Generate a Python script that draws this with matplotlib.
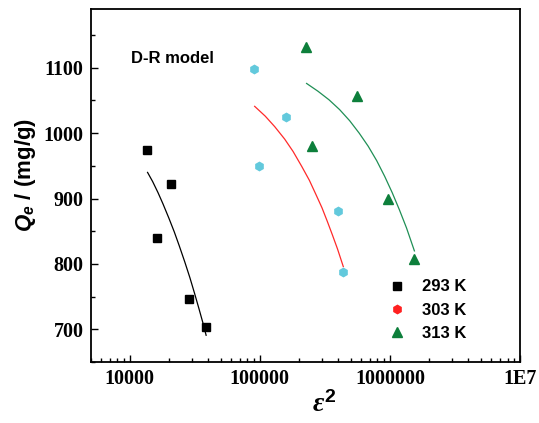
import matplotlib
matplotlib.use('Agg')
import matplotlib.pyplot as plt
from matplotlib.lines import Line2D
from matplotlib.ticker import FixedLocator, MultipleLocator, LogLocator, NullFormatter

# measured points (eps^2, Qe)
x_293 = [13550, 16070, 20750, 28440, 38640]
q_293 = [975, 840, 922, 747, 703]
x_303 = [90400, 99100, 158200, 401500, 437600]
q_303 = [1098, 950, 1025, 881, 788]
x_313 = [226600, 250000, 557000, 963000, 1540000]
q_313 = [1132, 981, 1057, 899, 808]

# D-R fit curves
fx_293 = [13710, 15000, 16500, 18000, 20000, 22000, 24000, 26500, 29000,
          31500, 34000, 36500, 38640]
fq_293 = [940, 926, 909, 892, 870, 849, 828, 803, 779, 755, 732, 710, 691]
fx_303 = [91200, 110000, 130000, 155000, 180000, 210000, 240000, 270000,
          300000, 330000, 360000, 395000, 437600]
fq_303 = [1041, 1026, 1010, 991, 972, 949, 928, 906, 886, 865, 845, 823, 796]
fx_313 = [228600, 280000, 340000, 410000, 490000, 580000, 680000, 790000,
          910000, 1040000, 1180000, 1340000, 1540000]
fq_313 = [1076, 1064, 1051, 1036, 1019, 1000, 980, 958, 934, 909, 883, 855,
          820]

xticks = [1e4, 1e5, 1e6, 1e7]
xtick_labels = ['10000', '100000', '1000000', '1E7']
yticks = [700, 800, 900, 1000, 1100]

plt.rcParams['mathtext.fontset'] = 'custom'
plt.rcParams['mathtext.it'] = 'Liberation Serif:bold:italic'
plt.rcParams['mathtext.sf'] = 'Liberation Sans:bold:italic'
plt.rcParams['mathtext.rm'] = 'Liberation Sans:bold'

fig = plt.figure(figsize=(5.39, 4.23), dpi=100)
ax = fig.add_axes([0.168, 0.144, 0.797, 0.835])

# fit lines
ax.plot(fx_293, fq_293, color='black', lw=0.9)
ax.plot(fx_303, fq_303, color='#ff2a2a', lw=0.9)
ax.plot(fx_313, fq_313, color='#1f8f55', lw=0.9)

# data points
ax.plot(x_293, q_293, 's', color='black', ms=5.5, ls='none')
ax.plot(x_303, q_303, 'h', color='#62c9dc', ms=6, ls='none')
ax.plot(x_313, q_313, '^', color='#0d7f3b', ms=6.5, ls='none')

ax.set_xscale('log')
ax.set_xlim(5000, 1e7)
ax.set_ylim(650, 1190)

ax.xaxis.set_major_locator(FixedLocator(xticks))
ax.set_xticklabels(xtick_labels)
ax.xaxis.set_minor_locator(LogLocator(base=10, subs=range(2, 10)))
ax.xaxis.set_minor_formatter(NullFormatter())
ax.set_yticks(yticks)
ax.yaxis.set_minor_locator(MultipleLocator(50))

ax.tick_params(which='both', direction='in', top=False, right=False)
ax.tick_params(which='major', length=5, width=1)
ax.tick_params(which='minor', length=3, width=1)
ax.tick_params(axis='x', pad=5)
ax.tick_params(axis='y', pad=5)
for lab in ax.get_xticklabels() + ax.get_yticklabels():
    lab.set_fontfamily('Liberation Serif')
    lab.set_fontweight('bold')
    lab.set_fontsize(14.5)

for s in ax.spines.values():
    s.set_linewidth(1.3)

ax.set_ylabel(r'$\mathsf{Q_e}$ / (mg/g)', fontsize=16, fontweight='bold',
              fontfamily='Liberation Sans')
ax.yaxis.set_label_coords(-0.123, 0.53)
ax.set_xlabel(r'$\varepsilon^{\mathit{2}}$', fontsize=20)
ax.xaxis.set_label_coords(0.543, -0.08)

ax.text(0.094, 0.86, 'D-R model', transform=ax.transAxes, fontsize=12,
        fontweight='bold', fontfamily='Liberation Sans', va='center')

handles = [
    Line2D([], [], marker='s', color='black', ms=5.5, ls='none'),
    Line2D([], [], marker='h', color='#ff2020', ms=6, ls='none'),
    Line2D([], [], marker='^', color='#0d7f3b', ms=6.5, ls='none'),
]
ax.legend(handles, ['293 K', '303 K', '313 K'], loc='center left',
          bbox_to_anchor=(0.694, 0.147), frameon=False, borderpad=0,
          borderaxespad=0, handlelength=1.0, handletextpad=1.0,
          labelspacing=0.5,
          prop={'family': 'Liberation Sans', 'weight': 'bold', 'size': 12})

fig.savefig('out.png', dpi=100)
